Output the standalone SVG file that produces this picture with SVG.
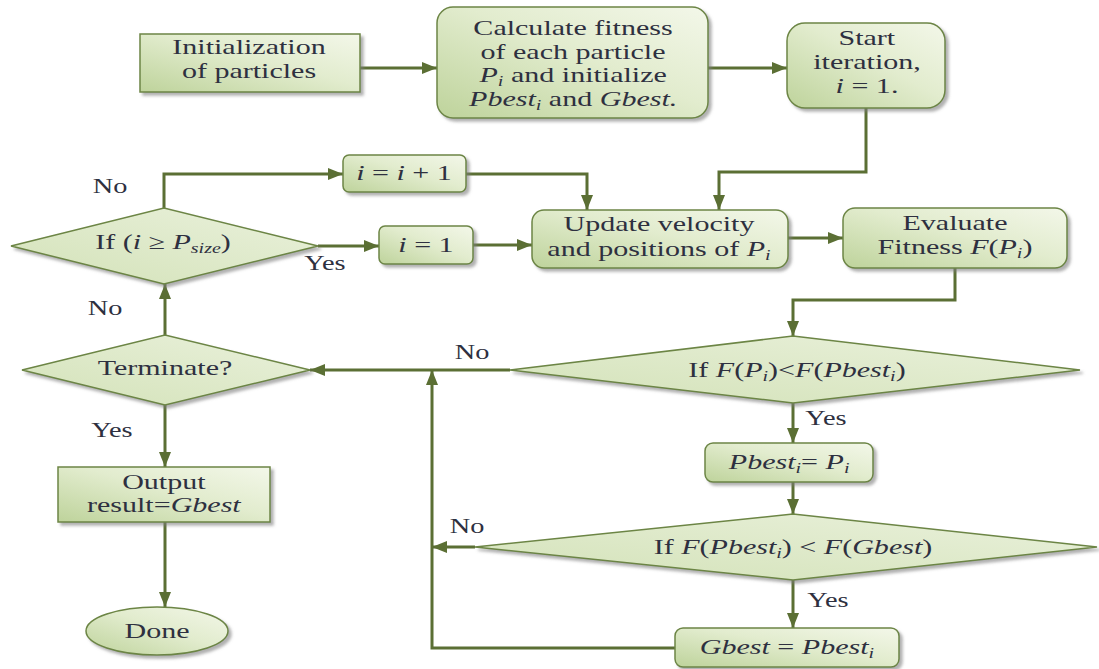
<svg xmlns="http://www.w3.org/2000/svg" width="1099" height="669" viewBox="0 0 1099 669">
  <defs>
    <linearGradient id="boxFill" x1="0" y1="1" x2="1" y2="0">
      <stop offset="0" stop-color="#bed39b"/>
      <stop offset="0.55" stop-color="#e2ecce"/>
      <stop offset="1" stop-color="#f3f7e9"/>
    </linearGradient>
    <linearGradient id="diaFill" x1="0" y1="1" x2="1" y2="0">
      <stop offset="0" stop-color="#d3e2b8"/>
      <stop offset="1" stop-color="#eaf1dc"/>
    </linearGradient>
    <filter id="shadow" x="-10%" y="-10%" width="130%" height="140%">
      <feDropShadow dx="3" dy="3" stdDeviation="1.5" flood-color="#7d7d7d" flood-opacity="0.6"/>
    </filter>
    <marker id="ah" viewBox="0 0 15 12" refX="15" refY="6" markerWidth="15" markerHeight="12" markerUnits="userSpaceOnUse" orient="auto">
      <path d="M0,0 L15,6 L0,12 z" fill="#5b6f34"/>
    </marker>
    <style>
      .box { fill: url(#boxFill); stroke: #6c8545; stroke-width: 1.5; filter: url(#shadow); }
      .dia { fill: url(#diaFill); stroke: #6c8545; stroke-width: 1.5; filter: url(#shadow); }
      .t { font-family: "Liberation Serif", "Times New Roman", serif; font-size: 21px; fill: #2e3040; text-anchor: middle;
           transform-box: fill-box; transform-origin: center; transform: scaleX(1.43); }
      .lab { font-family: "Liberation Serif", "Times New Roman", serif; font-size: 21px; fill: #2e3040; text-anchor: middle;
           transform-box: fill-box; transform-origin: center; transform: scaleX(1.35); }
      .it { font-style: italic; }
      .sub { font-size: 14px; font-style: italic; }
      .conn path { fill: none; stroke: #5b6f34; stroke-width: 3; }
      .conn path.arr { marker-end: url(#ah); }
    </style>
  </defs>

  <rect width="1099" height="669" fill="#ffffff"/>

  <!-- connectors -->
  <g id="connectors" class="conn">
    <path class="arr" d="M360,68 H437"/>
    <path class="arr" d="M708,68 H787"/>
    <path class="arr" d="M866,108 V172 H719 V210"/>
    <path class="arr" d="M164,208 V174 H343"/>
    <path class="arr" d="M466,174 H587 V210"/>
    <path class="arr" d="M318,246 H379"/>
    <path class="arr" d="M473,245 H532"/>
    <path class="arr" d="M788,238 H843"/>
    <path class="arr" d="M955,268 V300 H793 V336"/>
    <path class="arr" d="M510,370 H310"/>
    <path class="arr" d="M793,403 V443"/>
    <path class="arr" d="M793,482 V514"/>
    <path class="arr" d="M475,547 H432"/>
    <path class="arr" d="M793,580 V628"/>
    <path class="arr" d="M675,648 H432 V370"/>
    <path class="arr" d="M165,335 V284"/>
    <path class="arr" d="M165,405 V467"/>
    <path class="arr" d="M165,522 V607"/>
    <!-- branch labels -->
    <text class="lab" x="110" y="193">No</text>
    <text class="lab" x="325" y="270">Yes</text>
    <text class="lab" x="105" y="315">No</text>
    <text class="lab" x="472" y="359">No</text>
    <text class="lab" x="112" y="437">Yes</text>
    <text class="lab" x="826" y="425">Yes</text>
    <text class="lab" x="467" y="533">No</text>
    <text class="lab" x="828" y="607">Yes</text>
  </g>

  <g id="init">
    <rect class="box" x="140" y="34" width="220" height="58"/>
    <text class="t" x="249" y="54">Initialization</text>
    <text class="t" x="249" y="78">of particles</text>
  </g>

  <g id="calc">
    <rect class="box" x="437" y="7" width="271" height="111" rx="16"/>
    <text class="t" x="573" y="35">Calculate fitness</text>
    <text class="t" x="573" y="59">of each particle</text>
    <text class="t" x="573" y="82"><tspan class="it">P</tspan><tspan class="sub" dy="4">i</tspan><tspan dy="-4"> and initialize</tspan></text>
    <text class="t" x="573" y="106"><tspan class="it">Pbest</tspan><tspan class="sub" dy="4">i</tspan><tspan dy="-4"> and </tspan><tspan class="it">Gbest.</tspan></text>
  </g>

  <g id="start">
    <rect class="box" x="787" y="23" width="158" height="85" rx="18"/>
    <text class="t" x="867" y="45">Start</text>
    <text class="t" x="867" y="69">iteration,</text>
    <text class="t" x="867" y="93"><tspan class="it">i</tspan> = 1.</text>
  </g>

  <g id="inc">
    <rect class="box" x="343" y="155" width="123" height="37" rx="6"/>
    <text class="t" x="404" y="180"><tspan class="it">i</tspan> = <tspan class="it">i</tspan> + 1</text>
  </g>

  <g id="check-size">
    <polygon class="dia" points="11,246 164,208 318,246 164,284"/>
    <text class="t" x="163" y="249">If (<tspan class="it">i</tspan> ≥ <tspan class="it">P</tspan><tspan class="sub" dy="4">size</tspan><tspan dy="-4">)</tspan></text>
  </g>

  <g id="reset">
    <rect class="box" x="379" y="226" width="94" height="38" rx="6"/>
    <text class="t" x="426" y="252"><tspan class="it">i</tspan> = 1</text>
  </g>

  <g id="update">
    <rect class="box" x="532" y="210" width="256" height="58" rx="12"/>
    <text class="t" x="659" y="231">Update velocity</text>
    <text class="t" x="659" y="256">and positions of <tspan class="it">P</tspan><tspan class="sub" dy="4">i</tspan></text>
  </g>

  <g id="evaluate">
    <rect class="box" x="843" y="208" width="224" height="60" rx="12"/>
    <text class="t" x="955" y="230">Evaluate</text>
    <text class="t" x="955" y="254">Fitness <tspan class="it">F</tspan>(<tspan class="it">P</tspan><tspan class="sub" dy="4">i</tspan><tspan dy="-4">)</tspan></text>
  </g>

  <g id="terminate">
    <polygon class="dia" points="22,370 165,335 310,370 165,405"/>
    <text class="t" x="165" y="375">Terminate?</text>
  </g>

  <g id="cmp-pbest">
    <polygon class="dia" points="510,370 793,336 1080,370 793,403"/>
    <text class="t" x="797" y="377">If <tspan class="it">F</tspan>(<tspan class="it">P</tspan><tspan class="sub" dy="4">i</tspan><tspan dy="-4">)&lt;</tspan><tspan class="it">F</tspan>(<tspan class="it">Pbest</tspan><tspan class="sub" dy="4">i</tspan><tspan dy="-4">)</tspan></text>
  </g>

  <g id="set-pbest">
    <rect class="box" x="705" y="443" width="168" height="39" rx="8"/>
    <text class="t" x="789" y="469"><tspan class="it">Pbest</tspan><tspan class="sub" dy="4">i</tspan><tspan dy="-4">= </tspan><tspan class="it">P</tspan><tspan class="sub" dy="4">i</tspan></text>
  </g>

  <g id="cmp-gbest">
    <polygon class="dia" points="475,547 793,514 1097,547 793,580"/>
    <text class="t" x="793" y="554">If <tspan class="it">F</tspan>(<tspan class="it">Pbest</tspan><tspan class="sub" dy="4">i</tspan><tspan dy="-4">) &lt; </tspan><tspan class="it">F</tspan>(<tspan class="it">Gbest</tspan>)</text>
  </g>

  <g id="set-gbest">
    <rect class="box" x="675" y="628" width="224" height="39" rx="8"/>
    <text class="t" x="787" y="654"><tspan class="it">Gbest</tspan> = <tspan class="it">Pbest</tspan><tspan class="sub" dy="4">i</tspan></text>
  </g>

  <g id="output">
    <rect class="box" x="58" y="467" width="212" height="55"/>
    <text class="t" x="164" y="489">Output</text>
    <text class="t" x="164" y="512">result=<tspan class="it">Gbest</tspan></text>
  </g>

  <g id="done">
    <ellipse class="box" cx="157" cy="631" rx="71" ry="24"/>
    <text class="t" x="157" y="638">Done</text>
  </g>
</svg>
